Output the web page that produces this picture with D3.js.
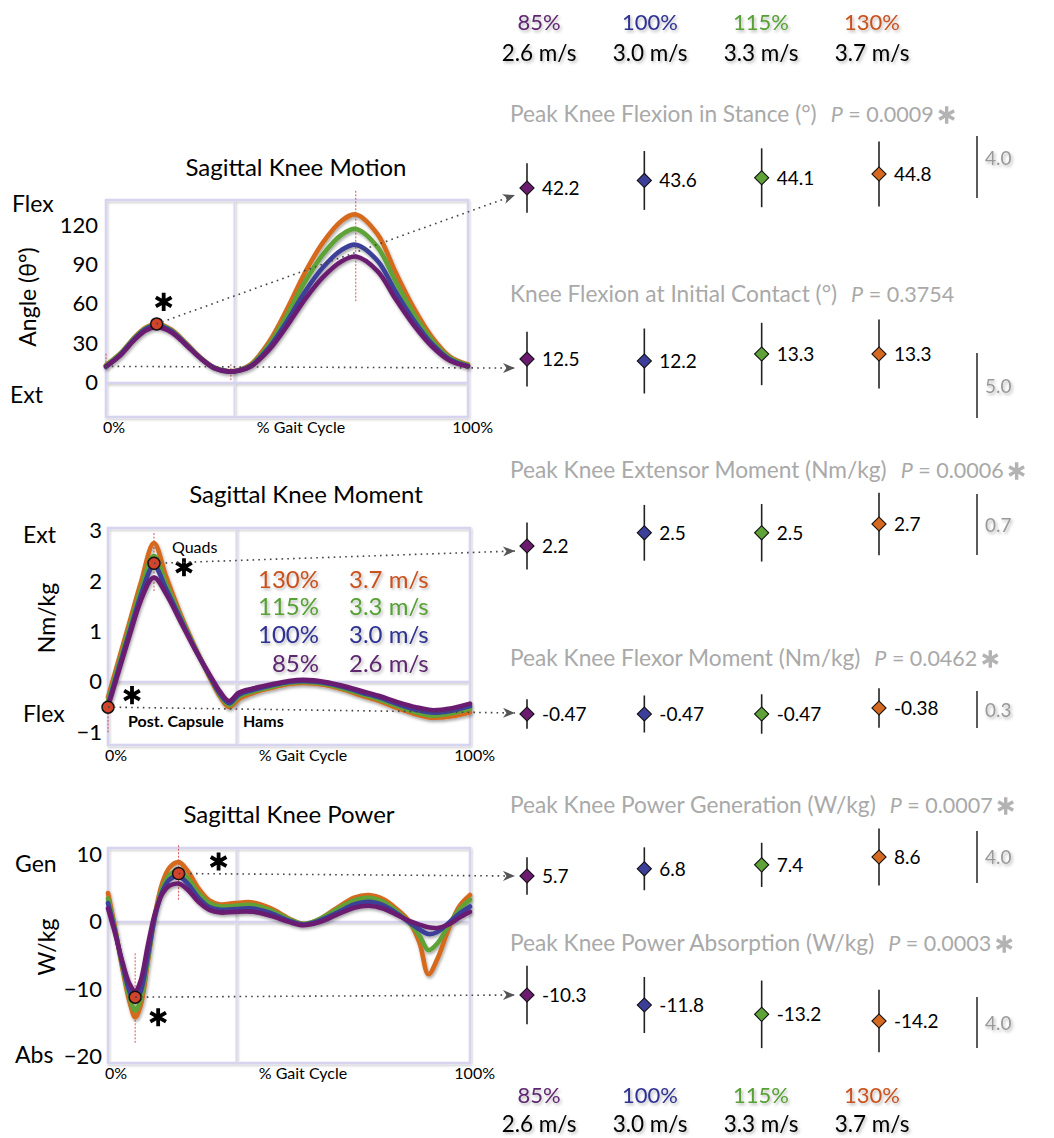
<!DOCTYPE html>
<html>
<head>
<meta charset="utf-8">
<script src="https://cdn.jsdelivr.net/npm/d3@7"></script>
<style>
  body { margin: 0; background: #fff; }
  svg { display: block; font-family: Lato, "Open Sans", sans-serif; }
</style>
</head>
<body>
<svg id="chart" width="1054" height="1138"></svg>
<script>
// ---------- speed conditions ----------
const speedPct = ["85%", "100%", "115%", "130%"];
const speedMps = ["2.6 m/s", "3.0 m/s", "3.3 m/s", "3.7 m/s"];

// ---------- sagittal knee motion (deg) vs % gait cycle ----------
const gaitMotion = [0,4,8,11,14,18,22,26,30,34,37,40,45,50,55,60,65,69,75,80,85,90,95,100];
const motion85  = [12.5,21,33,39.8,42.2,38.5,29,18.8,11,8.5,9.4,12.4,24.9,43.2,63.7,80.6,92.3,96,85,63.7,43.9,27.8,16.8,12.4];
const motion100 = [12.2,21.5,33.8,41,43.6,39.5,29.5,19,11.2,8.6,9.6,12.8,26.6,46.8,69.4,88,100.9,105,92.8,69.4,47.6,29.8,17.7,12.8];
const motion115 = [13.3,22.3,34.5,41.5,44.1,40,30,19.2,11.3,8.7,9.8,13.4,28.9,51.6,77,97.9,112.4,117,103.3,77,52.5,32.5,18.9,13.4];
const motion130 = [13.3,22.5,35,42,44.8,40.5,30.5,19.5,11.5,8.8,10,14,31,56,84,107,123,128,113,84,57,35,20,14];

// ---------- sagittal knee moment (Nm/kg) ----------
const gaitMoment = [0,3,6,9,12.7,16,20,24,28,31,33.5,36,40,45,50,54,60,65,70,75,80,85,90,95,100];
const moment85  = [-0.5,0.22,0.93,1.6,2.07,1.75,1.2,0.65,0.15,-0.2,-0.38,-0.22,-0.13,-0.05,0.02,0.04,0.0,-0.08,-0.18,-0.28,-0.4,-0.5,-0.56,-0.52,-0.43];
const moment100 = [-0.45,0.28,1.0,1.7,2.3,1.85,1.25,0.66,0.13,-0.24,-0.42,-0.26,-0.16,-0.07,0.0,0.02,-0.02,-0.1,-0.21,-0.31,-0.44,-0.55,-0.61,-0.57,-0.48];
const moment115 = [-0.38,0.36,1.1,1.82,2.5,1.95,1.3,0.68,0.12,-0.27,-0.46,-0.3,-0.19,-0.1,-0.02,0.0,-0.04,-0.13,-0.24,-0.35,-0.48,-0.6,-0.67,-0.62,-0.53];
const moment130 = [-0.3,0.45,1.2,1.95,2.75,2.1,1.35,0.7,0.1,-0.3,-0.5,-0.35,-0.22,-0.12,-0.04,-0.02,-0.06,-0.15,-0.27,-0.38,-0.52,-0.64,-0.71,-0.68,-0.6];

// ---------- sagittal knee power (W/kg) ----------
const gaitPower = [0,2,4,6,7.5,9,11,13,15,17,19.5,22,25,28,31,35,40,45,50,54,58,63,68,72,76,80,83,86,88.5,91,94,97,100];
const power85  = [2.0,-1.8,-6.0,-9.3,-10.3,-8.8,-3.5,1.3,4.2,5.4,5.7,4.8,3.0,1.8,1.4,1.5,1.5,0.9,0.0,-0.5,-0.1,1.0,2.1,2.4,2.0,1.0,0.2,-0.4,-0.8,-0.9,-0.4,0.6,1.5];
const power100 = [2.8,-1.5,-6.3,-10.4,-11.8,-10.4,-5.0,0.8,4.5,6.3,6.8,5.7,3.6,2.2,1.8,1.9,2.0,1.3,0.2,-0.4,0.1,1.3,2.6,3.0,2.5,1.2,0.0,-1.1,-1.8,-1.5,-0.2,1.2,2.3];
const power115 = [3.5,-1.3,-6.7,-11.3,-13.2,-11.6,-5.6,1.0,5.0,7.0,7.6,6.5,4.3,2.8,2.3,2.4,2.5,1.7,0.4,-0.3,0.3,1.8,3.2,3.6,3.0,1.5,0.0,-2.0,-4.2,-3.2,-0.6,1.8,3.3];
const power130 = [4.3,-1,-7,-12,-14.2,-12.5,-6,1.2,5.8,8.1,8.9,7.6,5.0,3.2,2.6,2.8,2.9,2.0,0.5,-0.3,0.3,2.0,3.6,4.0,3.4,1.8,0.2,-3,-7.8,-5.5,-1.2,2.3,4.0];

// ---------- discrete peak variables: group means and spread ----------
const rowTitles = [
  "Peak Knee Flexion in Stance (°)",
  "Knee Flexion at Initial Contact (°)",
  "Peak Knee Extensor Moment (Nm/kg)",
  "Peak Knee Flexor Moment (Nm/kg)",
  "Peak Knee Power Generation (W/kg)",
  "Peak Knee Power Absorption (W/kg)"
];
const pValues = ["0.0009", "0.3754", "0.0006", "0.0462", "0.0007", "0.0003"];
const significant = [true, false, true, true, true, true];

const peakFlexStance     = [42.2, 43.6, 44.1, 44.8];
const peakFlexStanceSD   = [1.6, 1.9, 1.9, 2.1];
const flexInitContact    = [12.5, 12.2, 13.3, 13.3];
const flexInitContactSD  = [2.1, 2.5, 2.4, 2.65];
const peakExtMoment      = [2.2, 2.5, 2.5, 2.7];
const peakExtMomentSD    = [0.27, 0.32, 0.33, 0.36];
const peakFlexMoment     = [-0.47, -0.47, -0.47, -0.38];
const peakFlexMomentSD   = [0.12, 0.15, 0.16, 0.16];
const peakPowerGen       = [5.7, 6.8, 7.4, 8.6];
const peakPowerGenSD     = [1.45, 1.65, 1.7, 2.2];
const peakPowerAbs       = [-10.3, -11.8, -13.2, -14.2];
const peakPowerAbsSD     = [2.3, 2.2, 2.65, 2.45];
const scaleBarValues     = [4.0, 5.0, 0.7, 0.3, 4.0, 4.0];

// highlighted group-mean events on the curves
const motionMarkers = [{x: 14, y: 44.8}];
const momentMarkers = [{x: 12.7, y: 2.35}, {x: 0, y: -0.5}];
const powerMarkers  = [{x: 19.5, y: 7.2}, {x: 7.5, y: -11.2}];

// ---------- styling ----------
const lineColors = ["#6b1c70", "#3c3f99", "#5fa238", "#d5691f"];
const textColors = ["#5e2870", "#2e3192", "#56a034", "#c9511e"];
const font = 'Lato, "Open Sans", sans-serif';

const svg = d3.select("#chart");
const defs = svg.append("defs");

function addShadow(id, dx, dy, sd, op) {
  const f = defs.append("filter").attr("id", id)
    .attr("x", "-20%").attr("y", "-30%").attr("width", "150%").attr("height", "180%");
  f.append("feDropShadow").attr("dx", dx).attr("dy", dy).attr("stdDeviation", sd)
    .attr("flood-color", "#000").attr("flood-opacity", op);
}
addShadow("lineShadow", 1, 2, 1.6, 0.35);
addShadow("textShadow", 1.5, 2, 1.4, 0.28);
addShadow("frameShadow", 1, 1.5, 1.2, 0.22);

defs.append("marker").attr("id", "arrow")
  .attr("viewBox", "0 0 12 10").attr("refX", 12).attr("refY", 5)
  .attr("markerWidth", 15).attr("markerHeight", 10)
  .attr("markerUnits", "userSpaceOnUse").attr("orient", "auto")
  .append("path").attr("d", "M0,0 L12,5 L0,10 L3.5,5 Z").attr("fill", "#555");

const asterisk = d3.symbol().type(d3.symbolAsterisk);

// ---------- column positions of the discrete panels ----------
const colX = d3.scalePoint().domain(speedPct).range([527, 879]);
const legendX = d3.scalePoint().domain(speedPct).range([539, 872]);

// ---------- left: curve panels ----------
const panels = [
  {
    title: "Sagittal Knee Motion", titleX: 296, titleY: 176,
    x0: 106, x1: 468, yTop: 200, yBot: 417, yDomain: [-26, 139],
    ticks: [0, 30, 60, 90, 120], tickPad: 8,
    gait: gaitMotion, series: [motion85, motion100, motion115, motion130],
    curve: d3.curveCatmullRom.alpha(0.5),
    upper: {text: "Flex", x: 12, y: 212}, lower: {text: "Ext", x: 10, y: 403},
    unit: {text: "Angle (θ°)", x: 27, y: 297},
    markers: motionMarkers,
    stars: [{dx: 7, dy: -22}],
    redLines: [{x: 69, y0: 62, y1: 146}, {x: 0, y0: 10, y1: 23}, {x: 14, y0: 40, y1: 50}, {x: 34.5, y0: 2, y1: 15}]
  },
  {
    title: "Sagittal Knee Moment", titleX: 306, titleY: 503,
    x0: 108, x1: 470, yTop: 528, yBot: 745, yDomain: [-1.25, 3.05],
    ticks: [-1, 0, 1, 2, 3], tickPad: 6,
    gait: gaitMoment, series: [moment85, moment100, moment115, moment130],
    curve: d3.curveMonotoneX,
    upper: {text: "Ext", x: 23, y: 543}, lower: {text: "Flex", x: 23, y: 722},
    unit: {text: "Nm/kg", x: 46, y: 618},
    markers: momentMarkers,
    stars: [{dx: 30, dy: 4}, {dx: 24, dy: -12}],
    redLines: [{x: 12.7, y0: 1.8, y1: 2.95}, {x: 0, y0: -1.0, y1: -0.2}]
  },
  {
    title: "Sagittal Knee Power", titleX: 289, titleY: 823,
    x0: 108, x1: 470, yTop: 848, yBot: 1063, yDomain: [-21, 11],
    ticks: [-20, -10, 0, 10], tickPad: 6,
    gait: gaitPower, series: [power85, power100, power115, power130],
    curve: d3.curveCatmullRom.alpha(0.5),
    upper: {text: "Gen", x: 15, y: 872}, lower: {text: "Abs", x: 15, y: 1063},
    unit: {text: "W/kg", x: 46, y: 947},
    markers: powerMarkers,
    stars: [{dx: 40, dy: -12}, {dx: 23, dy: 20}],
    redLines: [{x: 7.5, y0: -18, y1: -4.6}, {x: 19.5, y0: 3.3, y1: 11.4}]
  }
];

panels.forEach(p => {
  p.xs = d3.scaleLinear().domain([0, 100]).range([p.x0, p.x1]);
  p.ys = d3.scaleLinear().domain(p.yDomain).range([p.yBot, p.yTop]);
  const g = svg.append("g");

  // frame, phase divider, zero line
  const frame = g.append("g").attr("filter", "url(#frameShadow)");
  frame.append("rect").attr("x", p.x0).attr("y", p.yTop)
    .attr("width", p.x1 - p.x0).attr("height", p.yBot - p.yTop)
    .attr("fill", "none").attr("stroke", "#d6d4ee").attr("stroke-width", 2.5);
  frame.append("line").attr("x1", p.xs(35.5)).attr("x2", p.xs(35.5))
    .attr("y1", p.yTop).attr("y2", p.yBot)
    .attr("stroke", "#dad8ee").attr("stroke-width", 2);
  frame.append("line").attr("x1", p.x0).attr("x2", p.x1)
    .attr("y1", p.ys(0)).attr("y2", p.ys(0))
    .attr("stroke", "#d6d4ee").attr("stroke-width", 2.2);

  // y axis tick labels
  const ax = g.append("g").attr("transform", `translate(${p.x0},0)`)
    .call(d3.axisLeft(p.ys).tickValues(p.ticks).tickSize(0).tickPadding(p.tickPad).tickFormat(d3.format("d")));
  ax.select(".domain").remove();
  ax.selectAll("text").attr("font-size", 22).attr("font-family", font).attr("fill", "#000");

  // title and axis words
  g.append("text").attr("x", p.titleX).attr("y", p.titleY).attr("text-anchor", "middle")
    .attr("font-size", 24).attr("fill", "#000").text(p.title);
  [p.upper, p.lower].forEach(t => g.append("text").attr("x", t.x).attr("y", t.y)
    .attr("font-size", 23).attr("fill", "#000").text(t.text));
  g.append("text").attr("transform", `translate(${p.unit.x},${p.unit.y}) rotate(-90)`)
    .attr("text-anchor", "middle").attr("dominant-baseline", "central")
    .attr("font-size", 23).attr("fill", "#000").text(p.unit.text);

  // x labels
  const xl = p.yBot + 16;
  g.append("text").attr("x", p.x0 - 3).attr("y", xl).attr("font-size", 16).text("0%");
  g.append("text").attr("x", p.x0 + 195).attr("y", xl).attr("text-anchor", "middle").attr("font-size", 16).text("% Gait Cycle");
  g.append("text").attr("x", p.x1 + 25).attr("y", xl).attr("text-anchor", "end").attr("font-size", 16).text("100%");

  // event lines
  g.selectAll(".evt").data(p.redLines).join("line")
    .attr("x1", d => p.xs(d.x)).attr("x2", d => p.xs(d.x))
    .attr("y1", d => p.ys(d.y0)).attr("y2", d => p.ys(d.y1))
    .attr("stroke", "#d0393a").attr("stroke-width", 1).attr("stroke-dasharray", "2,1.5").attr("opacity", 0.85);

  // speed curves, fastest drawn first so the slowest sits on top
  const line = d3.line().curve(p.curve).x(d => p.xs(d[0])).y(d => p.ys(d[1]));
  const order = [3, 2, 1, 0];
  const lg = g.append("g").attr("filter", "url(#lineShadow)");
  order.forEach(i => {
    lg.append("path").datum(p.gait.map((x, k) => [x, p.series[i][k]]))
      .attr("d", line).attr("fill", "none")
      .attr("stroke", lineColors[i]).attr("stroke-width", 4.6)
      .attr("stroke-linejoin", "round").attr("stroke-linecap", "round");
  });
  p.g = g;
});

// ---------- right: discrete peak values ----------
const rowSeries = [peakFlexStance, flexInitContact, peakExtMoment, peakFlexMoment, peakPowerGen, peakPowerAbs];
const rowSpread = [peakFlexStanceSD, flexInitContactSD, peakExtMomentSD, peakFlexMomentSD, peakPowerGenSD, peakPowerAbsSD];
const rowLayout = [
  {titleY: 122, yAtMin: 188, yAtMax: 174, barTop: 136, barPx: 62, labelDy: -9, connDy: 7},
  {titleY: 302, yAtMin: 361, yAtMax: 354, barTop: 353, barPx: 65, labelDy: 0, connDy: 9},
  {titleY: 478, yAtMin: 546, yAtMax: 524, barTop: 494, barPx: 61, labelDy: 0, connDy: 5},
  {titleY: 666, yAtMin: 714, yAtMax: 708, barTop: 691, barPx: 37, labelDy: 0, connDy: -1},
  {titleY: 813, yAtMin: 876, yAtMax: 857, barTop: 831, barPx: 52, labelDy: 0, connDy: 0},
  {titleY: 951, yAtMin: 1021, yAtMax: 995, barTop: 997, barPx: 51, labelDy: 0, connDy: 0}
];
const fmt = v => (Math.abs(v) < 1 ? v.toFixed(2) : v.toFixed(1));
const rowScales = [];

rowSeries.forEach((vals, r) => {
  const L = rowLayout[r];
  const ext = d3.extent(vals);
  const y = d3.scaleLinear().domain(ext).range([L.yAtMin, L.yAtMax]);
  const spread = d3.scaleLinear().domain([0, scaleBarValues[r]]).range([0, L.barPx]);
  rowScales.push(y);
  const g = svg.append("g");

  // header with p-value
  const title = g.append("text").attr("x", 510).attr("y", L.titleY)
    .attr("font-size", 22.7).attr("fill", "#a9a9a9").text(rowTitles[r]);
  const tw = title.node().getComputedTextLength();
  const pt = g.append("text").attr("x", 510 + tw + 14).attr("y", L.titleY)
    .attr("font-size", 21.5).attr("fill", "#a9a9a9");
  pt.append("tspan").attr("font-style", "italic").text("P");
  pt.append("tspan").text(" = " + pValues[r]);
  if (significant[r]) {
    const pw = pt.node().getComputedTextLength();
    g.append("path").attr("d", asterisk.size(210)())
      .attr("transform", `translate(${510 + tw + 14 + pw + 13},${L.titleY - 7})`)
      .attr("stroke", "#b3b3b3").attr("stroke-width", 3.4).attr("fill", "none");
  }

  // error bars, diamonds, value labels
  vals.forEach((v, i) => {
    const cx = colX(speedPct[i]), cy = y(v), h = spread(rowSpread[r][i]);
    g.append("line").attr("x1", cx).attr("x2", cx).attr("y1", cy - h).attr("y2", cy + h)
      .attr("stroke", "#222").attr("stroke-width", 1.6);
    g.append("path").attr("d", d3.symbol().type(d3.symbolSquare).size(100)())
      .attr("transform", `translate(${cx},${cy}) rotate(45)`)
      .attr("fill", lineColors[i]).attr("stroke", "#111").attr("stroke-width", 1.1);
    g.append("text").attr("x", cx + 15).attr("y", cy + 7)
      .attr("font-size", 19).attr("fill", "#000").text(fmt(v));
  });

  // scale bar
  g.append("line").attr("x1", 977).attr("x2", 977)
    .attr("y1", L.barTop).attr("y2", L.barTop + spread(scaleBarValues[r]))
    .attr("stroke", "#333").attr("stroke-width", 1.6);
  g.append("text").attr("x", 985).attr("y", L.barTop + L.barPx / 2 + L.labelDy + 7)
    .attr("font-size", 19).attr("fill", "#999").attr("filter", "url(#textShadow)")
    .text(scaleBarValues[r].toFixed(1));
});

// ---------- connectors from curve events to the discrete rows ----------
const connectorGroup = svg.append("g");
function connector(x1, y1, r) {
  const L = rowLayout[r];
  const x2 = colX(speedPct[0]) - 12;
  const y2 = rowScales[r](rowSeries[r][0]) + L.connDy;
  connectorGroup.append("line").attr("x1", x1).attr("y1", y1).attr("x2", x2).attr("y2", y2)
    .attr("stroke", "#444").attr("stroke-width", 1.6)
    .attr("stroke-dasharray", "1.6,4.2").attr("marker-end", "url(#arrow)");
}
const pm = panels[0], pk = panels[1], pw = panels[2];
connector(pm.xs(motionMarkers[0].x), pm.ys(motionMarkers[0].y), 0);
connector(pm.xs(0), pm.ys(flexInitContact[0]), 1);
connector(pk.xs(momentMarkers[0].x), pk.ys(momentMarkers[0].y), 2);
connector(pk.xs(momentMarkers[1].x), pk.ys(momentMarkers[1].y), 3);
connector(pw.xs(powerMarkers[0].x), pw.ys(powerMarkers[0].y), 4);
connector(pw.xs(powerMarkers[1].x), pw.ys(powerMarkers[1].y), 5);

// event markers and significance asterisks
panels.forEach(p => {
  p.markers.forEach((m, k) => {
    const cx = p.xs(m.x), cy = p.ys(m.y);
    p.g.append("circle").attr("cx", cx).attr("cy", cy).attr("r", 6)
      .attr("fill", "#d2432c").attr("stroke", "#111").attr("stroke-width", 1.5);
    const s = p.stars[k];
    p.g.append("path").attr("d", asterisk.size(230)())
      .attr("transform", `translate(${cx + s.dx},${cy + s.dy})`)
      .attr("stroke", "#000").attr("stroke-width", 3.8).attr("fill", "none");
  });
});

// ---------- moment panel annotations ----------
const ann = panels[1].g;
ann.append("text").attr("x", 172).attr("y", 553).attr("font-size", 16).text("Quads");
ann.append("text").attr("x", 128).attr("y", 727).attr("font-size", 16).attr("font-weight", 700).text("Post. Capsule");
ann.append("text").attr("x", 243).attr("y", 727).attr("font-size", 16).attr("font-weight", 700).text("Hams");
const legendBase = [672, 643, 615, 588];
const inner = ann.append("g").attr("filter", "url(#textShadow)");
speedPct.forEach((s, i) => {
  inner.append("text").attr("x", 319).attr("y", legendBase[i]).attr("text-anchor", "end")
    .attr("font-size", 24).attr("fill", textColors[i]).text(s);
  inner.append("text").attr("x", 349).attr("y", legendBase[i])
    .attr("font-size", 24).attr("fill", textColors[i]).text(speedMps[i]);
});

// ---------- speed legends, top and bottom ----------
[[30, 61], [1103, 1132]].forEach(([yPct, yMps]) => {
  const lg = svg.append("g").attr("filter", "url(#textShadow)");
  speedPct.forEach((s, i) => {
    lg.append("text").attr("x", legendX(s)).attr("y", yPct).attr("text-anchor", "middle")
      .attr("font-size", 22).attr("fill", textColors[i]).text(s);
    lg.append("text").attr("x", legendX(s)).attr("y", yMps).attr("text-anchor", "middle")
      .attr("font-size", 22.5).attr("fill", "#000").text(speedMps[i]);
  });
});
</script>
</body>
</html>
